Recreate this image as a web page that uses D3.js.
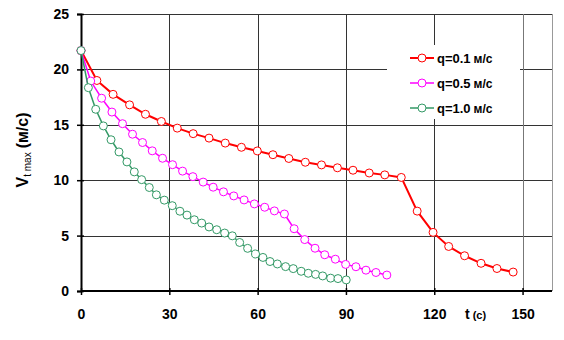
<!DOCTYPE html>
<html>
<head>
<meta charset="utf-8">
<script src="https://cdn.jsdelivr.net/npm/d3@7"></script>
<style>
  body { margin: 0; background: #fff; }
  svg { font-family: "Liberation Sans", Arial, sans-serif; }
</style>
</head>
<body>
<div id="chart"></div>
<script>
// q = 0.1 m/s
const timeQ01  = [0, 5.4, 10.9, 16.5, 21.9, 27.3, 32.7, 38.1, 43.5, 49.0, 54.5, 59.9, 65.2, 70.6, 76.2, 81.7, 87.1, 92.4, 97.9, 103.2, 108.8, 114.2, 119.6, 124.9, 130.3, 135.9, 141.3, 146.8];
const speedQ01 = [21.7, 19.0, 17.75, 16.8, 15.95, 15.3, 14.7, 14.2, 13.8, 13.35, 12.97, 12.64, 12.3, 11.96, 11.62, 11.38, 11.12, 10.9, 10.65, 10.48, 10.25, 7.21, 5.29, 4.02, 3.18, 2.5, 2.03, 1.71];
// q = 0.5 m/s
const timeQ05  = [0, 3.3, 7.0, 10.5, 14.1, 17.5, 20.9, 24.2, 27.7, 31.1, 34.5, 38.0, 41.5, 44.9, 48.4, 51.9, 55.4, 58.9, 62.4, 65.7, 69.1, 72.4, 76.0, 79.5, 82.8, 86.4, 89.9, 93.4, 96.8, 100.2, 103.9];
const speedQ05 = [21.7, 18.95, 17.4, 16.15, 15.1, 14.15, 13.4, 12.65, 11.98, 11.4, 10.82, 10.32, 9.83, 9.37, 8.95, 8.58, 8.22, 7.86, 7.56, 7.23, 6.95, 5.62, 4.64, 3.86, 3.27, 2.87, 2.4, 2.19, 1.88, 1.67, 1.44];
// q = 1.0 m/s
const timeQ10  = [0, 2.5, 5.0, 7.6, 10.2, 12.9, 15.6, 18.1, 20.6, 23.2, 25.6, 28.3, 31.0, 33.6, 36.0, 38.5, 41.0, 43.5, 46.1, 48.8, 51.4, 53.9, 56.6, 59.3, 61.8, 64.2, 66.7, 69.5, 72.1, 74.8, 77.2, 79.7, 82.1, 84.8, 87.3, 90.1];
const speedQ10 = [21.7, 18.35, 16.4, 14.9, 13.65, 12.55, 11.65, 10.75, 10.05, 9.34, 8.68, 8.2, 7.7, 7.2, 6.85, 6.43, 6.13, 5.78, 5.53, 5.23, 4.98, 4.38, 3.85, 3.34, 3.03, 2.66, 2.44, 2.2, 2.02, 1.78, 1.6, 1.5, 1.36, 1.16, 1.12, 1.0];

const seriesNames  = ['q=0.1', 'q=0.5', 'q=1.0'];
const seriesUnit   = 'м/с';
const xTicks = [0, 30, 60, 90, 120, 150];
const yTicks = [0, 5, 10, 15, 20, 25];

const colors = ['#ff0000', '#ff00ff', '#339966'];
const series = [
  { name: seriesNames[0], t: timeQ01, v: speedQ01, color: colors[0], width: 2 },
  { name: seriesNames[1], t: timeQ05, v: speedQ05, color: colors[1], width: 1.5 },
  { name: seriesNames[2], t: timeQ10, v: speedQ10, color: colors[2], width: 1.5 }
];

const svg = d3.select('#chart')
  .append('svg')
    .attr('width', 564)
    .attr('height', 340);

const plotLeft = 81, plotRight = 552, plotTop = 14, plotBottom = 291;

const x = d3.scaleLinear().domain([0, 160]).range([plotLeft, plotRight]);
const y = d3.scaleLinear().domain([0, 25]).range([plotBottom, plotTop]);

// grid
const grid = svg.append('g');
grid.selectAll('.hgrid')
    .data(yTicks.filter(d => d > 0))
  .join('line')
    .attr('x1', plotLeft).attr('x2', plotRight)
    .attr('y1', d => Math.round(y(d)) + 0.5).attr('y2', d => Math.round(y(d)) + 0.5)
    .attr('stroke', '#333').attr('stroke-width', 1);
grid.selectAll('.vgrid')
    .data(xTicks.filter(d => d > 0))
  .join('line')
    .attr('x1', d => Math.round(x(d)) + 0.5).attr('x2', d => Math.round(x(d)) + 0.5)
    .attr('y1', plotTop).attr('y2', plotBottom)
    .attr('stroke', d => d === 150 ? '#777' : '#333').attr('stroke-width', 1);
grid.append('line')
    .attr('x1', plotRight + 0.5).attr('x2', plotRight + 0.5)
    .attr('y1', plotTop).attr('y2', plotBottom)
    .attr('stroke', '#999');

// legend background hides the grid behind it
svg.append('rect')
    .attr('x', 387).attr('y', 45)
    .attr('width', 133).attr('height', 74)
    .attr('fill', '#fff');

// axes
const yAxis = svg.append('g')
    .attr('transform', `translate(${plotLeft},0)`)
    .call(d3.axisLeft(y).tickValues(yTicks).tickSize(4).tickPadding(8));
yAxis.selectAll('.tick line').attr('x1', 3);
const xAxis = svg.append('g')
    .attr('transform', `translate(0,${plotBottom})`)
    .call(d3.axisBottom(x).tickValues(xTicks).tickSize(4).tickPadding(14));
xAxis.selectAll('.tick line').attr('y1', -3);

[yAxis, xAxis].forEach(a => {
  a.select('.domain').attr('stroke', '#000').attr('stroke-width', 2);
  a.selectAll('.tick line').attr('stroke', '#000').attr('stroke-width', 1.5);
  a.selectAll('.tick text')
      .attr('font-size', '14px')
      .attr('font-weight', 'bold')
      .attr('font-family', '"Liberation Sans", Arial, sans-serif')
      .attr('fill', '#000');
});
xAxis.select('.domain').attr('d', `M${plotLeft},0H${plotRight}`);

// series
const line = d3.line()
    .x(d => x(d[0]))
    .y(d => y(d[1]));

series.forEach(s => {
  const pts = s.t.map((t, i) => [t, s.v[i]]);
  const g = svg.append('g');
  g.append('path')
      .datum(pts)
      .attr('fill', 'none')
      .attr('stroke', s.color)
      .attr('stroke-width', s.width)
      .attr('d', line);
  g.selectAll('circle')
      .data(pts)
    .join('circle')
      .attr('cx', d => x(d[0]))
      .attr('cy', d => y(d[1]))
      .attr('r', 4)
      .attr('fill', '#fff')
      .attr('stroke', s.color)
      .attr('stroke-width', 1);
});

// legend
const legend = svg.append('g');
series.forEach((s, i) => {
  const ly = 58 + i * 25;
  legend.append('line')
      .attr('x1', 410).attr('x2', 434)
      .attr('y1', ly).attr('y2', ly)
      .attr('stroke', s.color).attr('stroke-width', s.width);
  legend.append('circle')
      .attr('cx', 422).attr('cy', ly).attr('r', 4)
      .attr('fill', '#fff').attr('stroke', s.color);
  const t = legend.append('text')
      .attr('x', 437).attr('y', ly + 4.5)
      .attr('font-weight', 'bold');
  t.append('tspan').attr('font-size', '13px').text(s.name);
  t.append('tspan').attr('font-size', '12px').attr('dx', 3).text(seriesUnit);
});

// axis titles
const yTitle = svg.append('text')
    .attr('transform', 'translate(28,150) rotate(-90)')
    .attr('text-anchor', 'middle')
    .attr('font-weight', 'bold');
yTitle.append('tspan').attr('font-size', '16px').text('V');
yTitle.append('tspan').attr('font-size', '10px').attr('font-weight', 'normal').attr('dy', 3).text('t max');
yTitle.append('tspan').attr('font-size', '16px').attr('dy', -3).attr('dx', 4).text('(м/с)');

const xTitle = svg.append('text')
    .attr('x', 465).attr('y', 319)
    .attr('font-weight', 'bold');
xTitle.append('tspan').attr('font-size', '14px').text('t');
xTitle.append('tspan').attr('font-size', '11px').attr('dx', 3).text('(с)');
</script>
</body>
</html>
